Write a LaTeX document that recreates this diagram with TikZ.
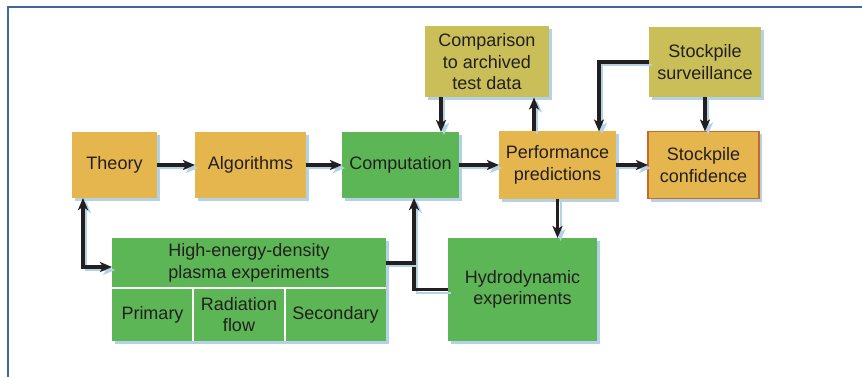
\documentclass[tikz,border=0pt]{standalone}
\usepackage{fontspec}
\setmainfont{Liberation Sans}
\usetikzlibrary{arrows.meta,positioning,shadows}

\definecolor{gold}{HTML}{E6B64E}
\definecolor{olive}{HTML}{C9BE58}
\definecolor{leaf}{HTML}{5DB655}
\definecolor{rust}{HTML}{C8682C}
\definecolor{haze}{HTML}{B4D2E6}
\definecolor{ink}{HTML}{231F20}
\definecolor{rule}{HTML}{3E6A9A}

\tikzset{
  box/.style={rectangle, inner sep=2pt, outer sep=0pt, align=center, text=ink,
    font=\fontsize{18}{21.5}\selectfont,
    drop shadow={shadow xshift=3pt, shadow yshift=-3pt, fill=haze, opacity=1}},
  goldbox/.style={box, fill=gold},
  olivebox/.style={box, fill=olive},
  leafbox/.style={box, fill=leaf},
  haloline/.style={preaction={draw=haze, line width=2pt, transform canvas={shift={(3pt,-3pt)}}}},
  link/.style={draw=ink, line width=3.2pt, haloline},
  arr/.style={link, -{Stealth[length=12pt,width=10pt,inset=3pt]}},
  arrboth/.style={link, {Stealth[length=12pt,width=10pt,inset=3pt]}-{Stealth[length=12pt,width=10pt,inset=3pt]}},
}

\begin{document}
\begin{tikzpicture}[x=1pt, y=-1pt]
    \useasboundingbox (0,0) rectangle (862,377);
    \draw[rule, line width=1.2pt] (8,377) -- (8,7) -- (862,7);

    % main row
    \node[goldbox, minimum width=85pt, minimum height=66pt] (theory) at (114.5,165) {Theory};
    \node[goldbox, minimum width=111pt, minimum height=66pt, right=38pt of theory] (algo) {Algorithms};
    \node[leafbox, minimum width=117pt, minimum height=66pt, right=36pt of algo] (comp) {Computation};
    \node[goldbox, minimum width=117pt, minimum height=67pt, right=40pt of comp] (perf) {Performance\\predictions};
    \node[goldbox, draw=rust, line width=1.6pt, minimum width=111pt, minimum height=67pt, right=32pt of perf] (conf) {Stockpile\\confidence};

    % top row
    \node[olivebox, minimum width=124pt, minimum height=71pt] (compar) at (487,62) {Comparison\\to archived\\test data};
    \node[olivebox, minimum width=112pt, minimum height=70pt] (surv) at (705,62) {Stockpile\\surveillance};

    % experiments
    \node[leafbox, minimum width=274pt, minimum height=50pt] (hed) at (249,263) {High-energy-density\\plasma experiments};
    \node[leafbox, minimum width=81pt, minimum height=53pt, anchor=north west] (primary) at (hed.south west) {Primary};
    \node[leafbox, minimum width=92pt, minimum height=53pt, anchor=north west] (radiation) at (primary.north east) {Radiation\\flow};
    \node[leafbox, minimum width=101pt, minimum height=53pt, anchor=north west] (secondary) at (radiation.north east) {Secondary};
    \draw[white, line width=1.5pt] (hed.south west) -- (hed.south east);
    \draw[white, line width=1.5pt] (primary.north east) -- (primary.south east);
    \draw[white, line width=1.5pt] (radiation.north east) -- (radiation.south east);
    \node[leafbox, minimum width=149pt, minimum height=103pt] (hydro) at (522.5,289.5) {Hydrodynamic\\experiments};

    \coordinate (riser) at ([xshift=72pt]comp.south west);

    % connectors
    \draw[arr] (theory) -- (algo);
    \draw[arr] (algo) -- (comp);
    \draw[arr] (comp) -- (perf);
    \draw[arr] (perf) -- (conf);
    \draw[arr] ([xshift=16pt]compar.south west) -- ([xshift=16pt]compar.south west |- comp.north);
    \draw[arr] ([xshift=35pt]perf.north west) -- ([xshift=35pt]perf.north west |- compar.south);
    \draw[arr] (surv.west) -| ([xshift=100pt]perf.north west);
    \draw[arr] (surv.south) -- (surv.south |- conf.north);
    \draw[arr] (perf.south) -- (perf.south |- hydro.north);
    \draw[arrboth] ([xshift=11pt]theory.south west) |- ([yshift=-4pt]hed.west);
    \draw[arr] (hydro.west) -| (riser);
    \draw[link] (hed.east) -- (hed.east -| riser);
\end{tikzpicture}
\end{document}
